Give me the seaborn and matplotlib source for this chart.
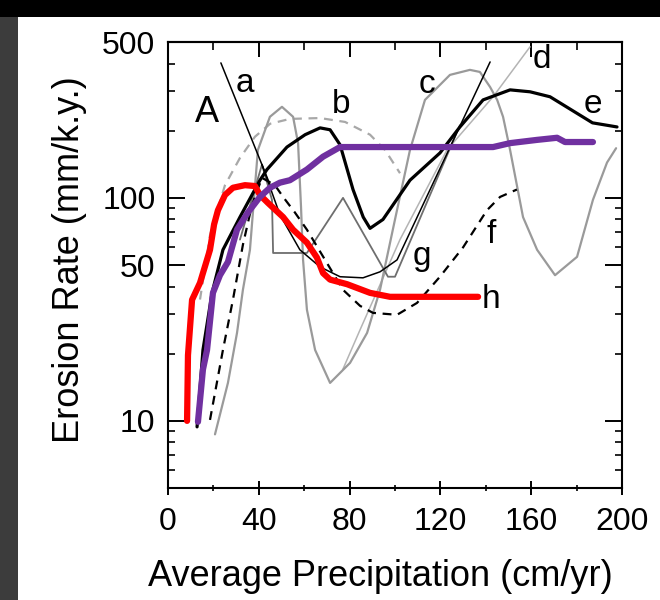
import numpy as np
import pandas as pd
import matplotlib
matplotlib.use("Agg")
import matplotlib.pyplot as plt
from matplotlib.patches import Rectangle
from matplotlib.ticker import FixedLocator, NullFormatter, LogLocator, MultipleLocator
import seaborn as sns

# ---- curves: precipitation (cm/yr) vs erosion rate (mm/k.y.) ----
a_x = [23.3, 45.8]
a_y = [403, 109]

b_x = [14.1, 18.5, 25.1, 31.7, 38.3, 45.0, 53.7, 67.0, 78.0, 89.0, 95.6, 102.2]
b_y = [35, 68, 114, 151, 188, 215, 226, 228, 219, 192, 164, 129]

c_x = [20.7, 26.4, 30.4, 33.0, 36.1, 39.6, 44.9, 50.2, 55.1, 57.3, 58.6, 59.5, 61.2,
       64.8, 71.4, 80.2, 87.7, 93.4, 100.0, 106.6, 113.2, 124.2, 133.0, 137.4, 141.9,
       145.0, 147.6, 150.7, 156.4, 162.6, 170.5, 180.2, 187.2, 193.4, 197.4]
c_y = [8.7, 14.8, 24.8, 38.7, 58.5, 164, 231, 256, 231, 176, 91, 52.7, 31.5,
       20.8, 14.8, 18.2, 24.8, 38.7, 80, 164, 275, 356, 375, 367, 314,
       275, 231, 164, 82, 58.5, 45, 54.4, 98, 144, 167]

d_x = [77.0, 84.6, 102.2, 122.9, 143.2, 159.5]
d_y = [17.0, 25.6, 65, 164, 284, 476]

e_x = [12.8, 15.4, 19.4, 24.2, 31.7, 40.5, 43.6, 52.4, 60.4, 67.0, 71.4, 75.8,
       81.5, 86.0, 89.0, 94.7, 106.6, 119.8, 128.6, 138.8, 150.7, 159.5, 168.3,
       180.0, 187.0, 197.8]
e_y = [9.4, 20.8, 37.5, 58.5, 82, 120, 134, 169, 192, 206, 202, 173,
       109, 82, 73, 80, 120, 159, 208, 275, 305, 299, 284,
       240, 217, 208]

f_x = [18.5, 24.2, 28.6, 33.0, 37.0, 41.4, 47.1, 50.7, 55.9, 61.2, 69.2, 77.1,
       84.6, 90.3, 100.9, 109.7, 119.8, 130.0, 140.5, 146.3, 153.7]
f_y = [10.1, 20.8, 34.9, 61.6, 93, 123, 114, 101, 86, 72, 52.7, 38.7,
       32.8, 30.5, 29.9, 33.8, 44.3, 60, 88, 101, 109]

g_x = [41.4, 49.3, 58.1, 67.0, 75.8, 85.9, 93.4, 100.9, 141.9]
g_y = [141, 84, 58.5, 49, 44.3, 43.8, 46.6, 52.7, 407]

w_x = [31.7, 41.4, 45.8, 46.3, 61.2, 77.1, 96.9, 100.0, 122.9, 128.6]
w_y = [65, 141, 98, 56.6, 56.6, 100, 44.3, 44.3, 155, 212]

h_x = [8.4, 8.8, 10.6, 14.1, 18.5, 20.3, 22.0, 25.1, 28.6, 33.9, 38.3, 40.5, 44.0,
       50.7, 55.1, 61.2, 65.6, 68.3, 71.4, 78.9, 89.0, 97.8, 115.4, 136.6]
h_y = [10.0, 19.7, 34.9, 41.6, 58.5, 76, 88, 103, 111, 114, 113, 103, 95,
       82, 72, 63, 54, 46, 43, 41, 37.5, 36, 36, 36]

p_x = [13.2, 15.4, 17.2, 19.8, 22.9, 26.4, 30.4, 35.2, 40.5, 44.9, 49.3, 53.7,
       61.2, 68.3, 75.8, 102.2, 143.2, 150.7, 162.6, 171.4, 174.9, 187.2]
p_y = [9.9, 17, 20.8, 37.5, 45, 51.6, 72, 86, 101, 111, 117, 120,
       134, 153, 169, 169, 169, 176, 182, 186, 178, 178]

curve_labels = ["A", "a", "b", "c", "d", "e", "f", "g", "h"]
label_x = [17.2, 33.9, 76.2, 114.1, 164.8, 187.2, 142.3, 111.9, 142.3]
label_y = [219, 299, 240, 296, 383, 240, 62.8, 50.1, 32.1]

x_ticks = [0, 40, 80, 120, 160, 200]
y_ticks = [10, 50, 100, 500]

sns.set_theme(style="ticks")
plt.rcParams["font.family"] = ["Liberation Sans", "DejaVu Sans"]
plt.rcParams["text.color"] = "black"
plt.rcParams["axes.labelcolor"] = "black"
plt.rcParams["xtick.color"] = "black"
plt.rcParams["ytick.color"] = "black"

fig = plt.figure(figsize=(6.6, 6.0), dpi=100, facecolor="white")
# dark frame strips along the top and left edge
fig.patches.append(Rectangle((0, 1 - 17 / 600), 1, 17 / 600, transform=fig.transFigure,
                             facecolor="black", edgecolor="none", zorder=0))
fig.patches.append(Rectangle((0, 0), 18 / 660, 1 - 17 / 600, transform=fig.transFigure,
                             facecolor="#3c3c3c", edgecolor="none", zorder=0))

ax = fig.add_axes([168 / 660, 1 - 488 / 600, (622 - 168) / 660, (488 - 42) / 600])
ax.set_facecolor("white")


def draw(xs, ys, **kw):
    df = pd.DataFrame({"x": xs, "y": ys})
    sns.lineplot(data=df, x="x", y="y", ax=ax, sort=False, estimator=None,
                 legend=False, **kw)


draw(b_x, b_y, color="#a8a8a8", linewidth=1.6, linestyle=(0, (4, 3)))
draw(d_x, d_y, color="#b4b4b4", linewidth=1.1)
draw(c_x, c_y, color="#9a9a9a", linewidth=1.6)
draw(w_x, w_y, color="#6e6e6e", linewidth=1.3)
draw(a_x, a_y, color="black", linewidth=1.1)
draw(g_x, g_y, color="black", linewidth=1.1)
draw(f_x, f_y, color="black", linewidth=1.6, linestyle=(0, (4, 3)))
draw(e_x, e_y, color="black", linewidth=2.3)
draw(h_x, h_y, color="#ff0000", linewidth=4.5)
draw(p_x, p_y, color="#7030a0", linewidth=4.5)

ax.set_yscale("log")
ax.set_xlim(0, 200)
ax.set_ylim(5, 500)

ax.xaxis.set_major_locator(FixedLocator(x_ticks))
ax.xaxis.set_minor_locator(MultipleLocator(20))
ax.yaxis.set_major_locator(FixedLocator(y_ticks))
ax.yaxis.set_minor_locator(LogLocator(base=10, subs=np.arange(2, 10)))
ax.yaxis.set_minor_formatter(NullFormatter())
ax.set_xticklabels([str(v) for v in x_ticks])
ax.set_yticklabels([str(v) for v in y_ticks])

for s in ax.spines.values():
    s.set_linewidth(1.5)
    s.set_color("black")
    s.set_visible(True)

ax.tick_params(axis="x", which="major", direction="inout", length=10, width=1.4,
               labelsize=23, pad=9)
ax.tick_params(axis="x", which="minor", direction="inout", length=5, width=1.2)
ax.tick_params(axis="y", which="major", direction="in", length=12, width=1.4,
               labelsize=23, pad=9, right=True)
ax.tick_params(axis="y", which="minor", direction="in", length=5, width=1.2, right=True)

top = ax.secondary_xaxis("top")
top.xaxis.set_major_locator(FixedLocator(x_ticks))
top.xaxis.set_minor_locator(MultipleLocator(20))
top.tick_params(which="major", direction="in", length=11, width=1.4, labeltop=False)
top.tick_params(which="minor", direction="in", length=6, width=1.2)
top.spines["top"].set_linewidth(1.5)

for t, lx, ly in zip(curve_labels, label_x, label_y):
    ax.text(lx, ly, t, ha="center", va="baseline",
            fontsize=26 if t == "A" else 24, color="black")

ax.set_xlabel("Average Precipitation (cm/yr)", fontsize=26)
ax.set_ylabel("Erosion Rate (mm/k.y.)", fontsize=26)
# label centres in axes-fraction coordinates
ax.xaxis.set_label_coords((380 - 168) / 454, -(576 - 488) / 446)
ax.yaxis.set_label_coords(-(168 - 70) / 454, (488 - 260) / 446)
ax.xaxis.label.set_va("center")
ax.yaxis.label.set_va("center")

fig.savefig("out.png", dpi=100, facecolor="white")
